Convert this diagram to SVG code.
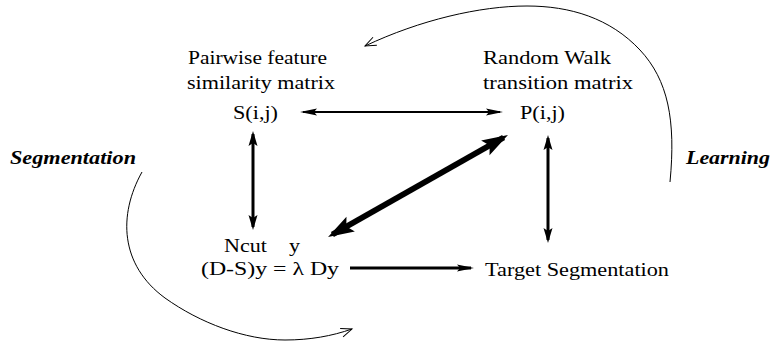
<svg xmlns="http://www.w3.org/2000/svg" width="774" height="349" viewBox="0 0 774 349">
<style>
.t{font-family:"Liberation Serif","Times New Roman",serif;font-size:18px;fill:#000}
.bi{font-family:"Liberation Serif","Times New Roman",serif;font-size:18px;font-weight:bold;font-style:italic;fill:#000}
.ln{stroke:#000;fill:none}
.cv{stroke:#000;fill:none;stroke-width:1}
</style>
<defs>
<marker id="hThin" markerUnits="userSpaceOnUse" viewBox="-20 -5 24 10" markerWidth="24" markerHeight="10" refX="-3" refY="0" orient="auto-start-reverse">
<path d="M0,0 L-17,-3.6 L-14,0 L-17,3.6 Z" fill="#000"/>
</marker>
<marker id="hMed" markerUnits="userSpaceOnUse" viewBox="-20 -6 24 12" markerWidth="24" markerHeight="12" refX="-3" refY="0" orient="auto-start-reverse">
<path d="M0,0 L-15,-4.5 L-12,0 L-15,4.5 Z" fill="#000"/>
</marker>
<marker id="hThick" markerUnits="userSpaceOnUse" viewBox="-28 -10 32 20" markerWidth="32" markerHeight="20" refX="-5" refY="0" orient="auto-start-reverse">
<path d="M0,0 L-26,-8.5 L-21,0 L-26,8.5 Z" fill="#000"/>
</marker>
<marker id="hOpen" markerUnits="userSpaceOnUse" viewBox="-14 -7 16 14" markerWidth="16" markerHeight="14" refX="0" refY="0" orient="auto">
<path d="M-11,-4.5 L0,0 L-11,4.5" fill="none" stroke="#000" stroke-width="1"/>
</marker>
</defs>

<g id="connectors">
<line class="ln" x1="303" y1="112" x2="500" y2="112" stroke-width="2" marker-start="url(#hThin)" marker-end="url(#hThin)"/>
<line class="ln" x1="253" y1="134" x2="253" y2="227" stroke-width="3" marker-start="url(#hMed)" marker-end="url(#hMed)"/>
<line class="ln" x1="548" y1="138" x2="548" y2="240" stroke-width="3" marker-start="url(#hMed)" marker-end="url(#hMed)"/>
<line class="ln" x1="332.4" y1="234.5" x2="503.6" y2="137.5" stroke-width="6" marker-start="url(#hThick)" marker-end="url(#hThick)"/>
<line class="ln" x1="350" y1="268" x2="471" y2="268" stroke-width="3" marker-end="url(#hThin)"/>
<path class="cv" d="M670,182 C676,120 668,80 640,50 C610,18 570,6 527,6 C480,6 420,20 365,46" marker-end="url(#hOpen)"/>
<path class="cv" d="M142,172 C118,215 120,265 165,298 C200,323 245,340 285,340 C310,340 332,336 352,329" marker-end="url(#hOpen)"/>
</g>

<g id="node-S">
<text class="t" x="188" y="64" textLength="139" lengthAdjust="spacingAndGlyphs">Pairwise feature</text>
<text class="t" x="187" y="89" textLength="148" lengthAdjust="spacingAndGlyphs">similarity matrix</text>
<text class="t" x="233" y="119" textLength="45" lengthAdjust="spacingAndGlyphs">S(i,j)</text>
</g>

<g id="node-P">
<text class="t" x="483" y="64" textLength="128" lengthAdjust="spacingAndGlyphs">Random Walk</text>
<text class="t" x="483" y="89" textLength="150" lengthAdjust="spacingAndGlyphs">transition matrix</text>
<text class="t" x="520" y="119" textLength="45" lengthAdjust="spacingAndGlyphs">P(i,j)</text>
</g>

<g id="node-Ncut">
<text class="t" x="224" y="252" textLength="43" lengthAdjust="spacingAndGlyphs">Ncut</text>
<text class="t" x="289" y="252" textLength="11" lengthAdjust="spacingAndGlyphs">y</text>
<text class="t" x="201" y="275" textLength="138" lengthAdjust="spacingAndGlyphs">(D-S)y =  λ Dy</text>
</g>

<g id="node-target">
<text class="t" x="485" y="276" textLength="184" lengthAdjust="spacingAndGlyphs">Target Segmentation</text>
</g>

<g id="label-segmentation">
<text class="bi" x="10" y="164" textLength="126" lengthAdjust="spacingAndGlyphs">Segmentation</text>
</g>
<g id="label-learning">
<text class="bi" x="686" y="164" textLength="84" lengthAdjust="spacingAndGlyphs">Learning</text>
</g>
</svg>
